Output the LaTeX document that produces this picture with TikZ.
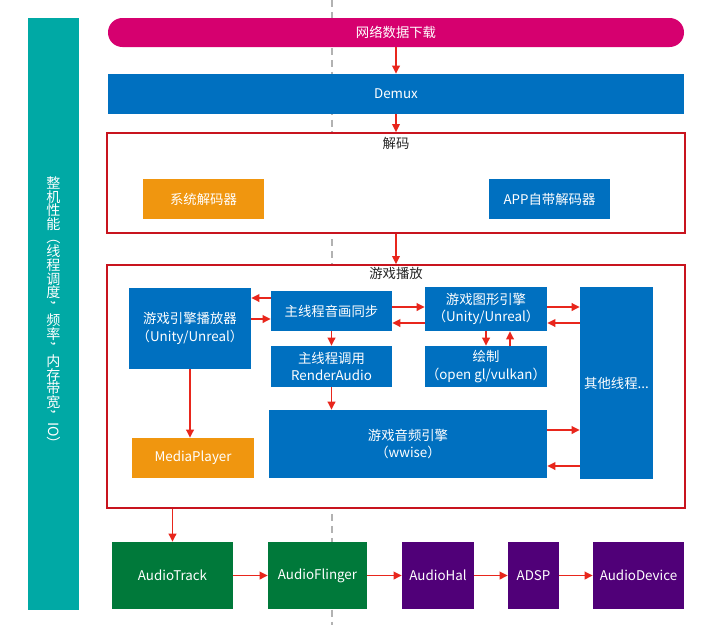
\documentclass[tikz,border=0pt]{standalone}
\usepackage{fontspec}
\setmainfont{Noto Sans CJK SC}
\usepackage{graphicx}
\usepackage{xcolor}
\usepackage{tikz}
\usetikzlibrary{arrows.meta, backgrounds}
\definecolor{cPink}{HTML}{D6006F}
\definecolor{cBlue}{HTML}{0070C0}
\definecolor{cOrange}{HTML}{F0960F}
\definecolor{cTeal}{HTML}{00A9A5}
\definecolor{cGreen}{HTML}{00793A}
\definecolor{cPurple}{HTML}{500078}
\definecolor{cFrame}{HTML}{C8141E}
\definecolor{cArrow}{HTML}{E8261C}
\tikzset{
    sz/.style 2 args = {minimum width=#1*0.025cm, minimum height=#2*0.025cm},
    blk/.style       = {inner sep=1pt, align=center, text=white,
                        font=\fontsize{9.5}{12.5}\selectfont},
    blau/.style      = {blk, fill=cBlue},
    orng/.style      = {blk, fill=cOrange},
    gruen/.style     = {blk, fill=cGreen},
    lila/.style      = {blk, fill=cPurple},
    rahmen/.style    = {draw=cFrame, line width=1.2pt, fill=white, inner sep=0pt},
    titel/.style     = {font=\fontsize{9.5}{12}\selectfont, text=black!85, inner sep=1pt},
    link/.style      = {-{Triangle[length=2mm, width=1.9mm]}, draw=cArrow, line width=1.1pt}
}

\begin{document}
\begin{tikzpicture}[x=0.025cm, y=-0.025cm,
        mitte/.style = {draw=black!30, line width=0.8pt, dash pattern=on 5pt off 3.5pt},
        senk/.style  = {text=white, inner sep=0pt, font=\fontsize{10}{12}\selectfont}]

        \useasboundingbox (0,0) rectangle (721,625);

        % Mittellinie
        \coordinate (m1) at (332,0);
        \coordinate (m2) at (332,625);
        \draw[mitte] (m1) -- (m2);

        % Seitenleiste
        \node[fill=cTeal, sz={51}{592}] (perf) at (53.5,314) {};
        \foreach \c [count=\i] in {整,机,性,能,{\rotatebox[origin=c]{-90}{（}},线,程,调,度,
                {\rotatebox[origin=c]{-90}{，}},频,率,{\rotatebox[origin=c]{-90}{，}},内,存,带,宽,
                {\rotatebox[origin=c]{-90}{，}},{\rotatebox[origin=c]{-90}{IO}},{\rotatebox[origin=c]{-90}{）}}}
            \node[senk] (v\i) at (53.5,169.3+13.7*\i) {\c};

        % Download und Demux
        \node[blk, fill=cPink, rounded corners=0.36cm, sz={576}{29}] (dl) at (396,32.5) {网络数据下载};
        \node[blau, sz={576}{40}] (demux) at (396,94) {Demux};

        % Decoder
        \node[rahmen, sz={578}{100}] (decode) at (396,183) {};
        \node[titel] (declab) at (396,143) {解码};
        \node[orng, sz={121}{40}] (sysdec) at (203.5,199) {系统解码器};
        \node[blau, sz={121}{40}] (appdec) at (549.5,199) {APP自带解码器};

        % Spielwiedergabe
        \node[rahmen, sz={578}{243}] (game) at (396,386.5) {};
        \node[titel] (gamelab) at (396,273) {游戏播放};
        \node[blau, sz={122}{81}] (player) at (190,328.5) {游戏引擎播放器\\（Unity/Unreal）};
        \node[blau, sz={121}{40}] (sync) at (331.5,311) {主线程音画同步};
        \node[blau, sz={121}{41}] (callra) at (331.5,366.5) {主线程调用\\RenderAudio};
        \node[blau, sz={122}{44}] (gfx) at (486,309) {游戏图形引擎\\（Unity/Unreal）};
        \node[blau, sz={122}{41}] (render) at (486,366.5) {绘制\\（open gl/vulkan）};
        \node[blau, sz={278}{68}] (audeng) at (408,444) {游戏音频引擎\\（wwise）};
        \node[orng, sz={122}{40}] (mplayer) at (193,458) {MediaPlayer};
        \node[blau, sz={73}{192}] (other) at (616.5,383) {其他线程...};

        % Audiokette
        \node[gruen, sz={121}{67}] (atrack)   at (172.5,575.5) {AudioTrack};
        \node[gruen, sz={99}{67}]  (aflinger) at (317.5,575.5) {AudioFlinger};
        \node[lila, sz={72}{67}]   (ahal)     at (438,575.5)   {AudioHal};
        \node[lila, sz={51}{67}]   (adsp)     at (533.5,575.5) {ADSP};
        \node[lila, sz={91}{67}]   (adev)     at (638.5,575.5) {AudioDevice};

        % Pfeile oben
        \draw[link] (dl) -- (demux);
        \draw[link] (demux) -- (decode);
        \draw[link] (decode) -- (game);

        % Pfeile im Spielblock
        \draw[link] (sync.west |- 0,298) -- (player.east |- 0,298);
        \draw[link] (player.east |- 0,319) -- (sync.west |- 0,319);
        \draw[link] (sync.east |- 0,307) -- (gfx.west |- 0,307);
        \draw[link] (gfx.west |- 0,323) -- (sync.east |- 0,323);
        \draw[link] (gfx.east |- 0,307) -- (other.west |- 0,307);
        \draw[link] (other.west |- 0,323) -- (gfx.east |- 0,323);
        \draw[link] (audeng.east |- 0,430) -- (other.west |- 0,430);
        \draw[link] (other.west |- 0,466) -- (audeng.east |- 0,466);
        \draw[link] (gfx.south) -- (render.north -| gfx.south);
        \draw[link] (render.north -| 510,0) -- (gfx.south -| 510,0);
        \draw[link] (sync) -- (callra);
        \draw[link] (callra.south) -- (callra.south |- audeng.north);
        \draw[link] (player.south) -- (player.south |- mplayer.north);

        % Pfeile unten
        \draw[link] (game.south -| atrack.north) -- (atrack.north);
        \draw[link] (atrack) -- (aflinger);
        \draw[link] (aflinger) -- (ahal);
        \draw[link] (ahal) -- (adsp);
        \draw[link] (adsp) -- (adev);
    \end{tikzpicture}
\end{document}
